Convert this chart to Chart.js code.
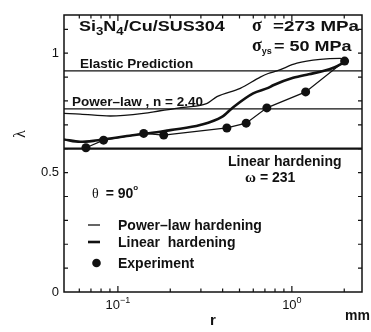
<!DOCTYPE html>
<html>
<head>
<meta charset="utf-8">
<script src="https://cdn.jsdelivr.net/npm/chart.js@4/dist/chart.umd.min.js"></script>
<style>
  html, body { margin: 0; padding: 0; background: #fff; }
  #wrap { width: 371px; height: 332px; }
</style>
</head>
<body>
<div id="wrap"><canvas id="c" width="371" height="332"></canvas></div>
<script>
// Distance from the interface edge r (mm) and the singularity exponent λ
const powerLawR = [0.049, 0.0607, 0.0903, 0.1403, 0.175, 0.238, 0.326, 0.371, 0.505, 0.658, 0.731, 0.82, 1.069, 1.455, 1.896, 2.0];
const powerLawL = [0.748, 0.745, 0.737, 0.748, 0.759, 0.773, 0.790, 0.818, 0.853, 0.900, 0.915, 0.926, 0.958, 0.974, 0.978, 0.975];

const linearR = [0.049, 0.0607, 0.0724, 0.0903, 0.1127, 0.175, 0.200, 0.297, 0.396, 0.462, 0.599, 0.731, 0.781, 1.017, 1.25, 1.513, 1.75, 2.0];
const linearL = [0.639, 0.629, 0.633, 0.643, 0.653, 0.671, 0.678, 0.699, 0.733, 0.775, 0.832, 0.855, 0.866, 0.897, 0.912, 0.925, 0.940, 0.962];

const expR = [0.0655, 0.0827, 0.1407, 0.1834, 0.423, 0.546, 0.718, 1.20, 2.01];
const expL = [0.604, 0.636, 0.664, 0.657, 0.687, 0.707, 0.771, 0.838, 0.967];

// Reference levels of λ
const elasticLevel = 0.926;
const powerLawLevel = 0.767;
const linearLevel = 0.600;

// Axis ranges and ticks
const xRange = [0.049, 2.53];
const yRange = [0, 1.16];
const xTickValues = [0.06, 0.07, 0.08, 0.09, 0.1, 0.2, 0.3, 0.4, 0.5, 0.6, 0.7, 0.8, 0.9, 1, 2];
const xMajorTicks = [0.1, 1];
const xTickExponents = ['−1', '0'];
const yTickValues = [0, 0.1, 0.2, 0.3, 0.4, 0.5, 0.6, 0.7, 0.8, 0.9, 1.0, 1.1];
const yTickLabels = ['0', '', '', '', '', '0.5', '', '', '', '', '1', ''];

const INK = '#111';
const SANS = '"Liberation Sans", Arial, Helvetica, sans-serif';
const SERIF = '"Liberation Serif", "Times New Roman", serif';

const pts = (xs, ys) => xs.map((x, i) => ({ x: x, y: ys[i] }));
const level = (v) => [{ x: xRange[0], y: v }, { x: xRange[1], y: v }];

// Draws a run of text pieces (font, vertical shift) with an optional horizontal stretch
function drawRuns(ctx, x, y, parts, sx) {
  ctx.save();
  ctx.translate(x, y);
  ctx.scale(sx || 1, 1);
  ctx.textBaseline = 'alphabetic';
  ctx.textAlign = 'left';
  let cx = 0;
  for (const p of parts) {
    ctx.font = p.f;
    ctx.fillText(p.t, cx, p.dy || 0);
    cx += ctx.measureText(p.t).width + (p.gap || 0);
  }
  ctx.restore();
}

const decorations = {
  id: 'decorations',
  afterDatasetsDraw(chart) {
    const { ctx, chartArea: a, scales } = chart;
    const xs = scales.x, ys = scales.y;
    ctx.save();
    ctx.fillStyle = INK;
    ctx.strokeStyle = INK;

    // frame
    ctx.lineWidth = 1.5;
    ctx.strokeRect(a.left, a.top, a.right - a.left, a.bottom - a.top);

    // inward tick marks
    ctx.lineWidth = 1.2;
    ctx.beginPath();
    for (const v of yTickValues) {
      const py = ys.getPixelForValue(v);
      if (v === 0) continue;
      ctx.moveTo(a.left, py); ctx.lineTo(a.left + 4, py);
      ctx.moveTo(a.right, py); ctx.lineTo(a.right - 4, py);
    }
    for (const v of xTickValues) {
      const px = xs.getPixelForValue(v);
      const len = xMajorTicks.includes(v) ? 6 : 3.5;
      ctx.moveTo(px, a.bottom); ctx.lineTo(px, a.bottom - len);
      ctx.moveTo(px, a.top); ctx.lineTo(px, a.top + len);
    }
    ctx.stroke();

    // decade labels on the r axis
    xMajorTicks.forEach((v, i) => {
      const px = xs.getPixelForValue(v);
      ctx.font = '13px ' + SANS;
      const wb = ctx.measureText('10').width;
      ctx.font = '9px ' + SANS;
      const we = ctx.measureText(xTickExponents[i]).width;
      const x0 = px - (wb + we) / 2;
      drawRuns(ctx, x0, 309, [
        { t: '10', f: '13px ' + SANS },
        { t: xTickExponents[i], f: '9px ' + SANS, dy: -6 }
      ]);
    });
    ctx.font = 'bold 14px ' + SANS;
    ctx.fillText('mm', 345, 320);

    // λ axis title
    ctx.save();
    ctx.translate(21, 134);
    ctx.rotate(-Math.PI / 2);
    ctx.font = '16px ' + SERIF;
    ctx.textAlign = 'center';
    ctx.textBaseline = 'middle';
    ctx.fillText('λ', 0, 0);
    ctx.restore();

    // material and load annotations
    const B15 = 'bold 15px ' + SANS, B11 = 'bold 11px ' + SANS;
    drawRuns(ctx, 79, 31, [
      { t: 'Si', f: B15 }, { t: '3', f: B11, dy: 4 },
      { t: 'N', f: B15 }, { t: '4', f: B11, dy: 4 },
      { t: '/Cu/SUS304', f: B15 }
    ], 1.2);
    drawRuns(ctx, 252, 31, [{ t: 'σ', f: 'bold 18px ' + SERIF }]);
    drawRuns(ctx, 273, 31, [{ t: '=273 MPa', f: B15 }], 1.25);
    drawRuns(ctx, 252, 51, [{ t: 'σ', f: 'bold 18px ' + SERIF }, { t: 'ys', f: 'bold 9px ' + SANS, dy: 3 }]);
    drawRuns(ctx, 274, 51, [{ t: '= 50 MPa', f: B15 }], 1.2);

    const B13 = 'bold 13.5px ' + SANS, B14 = 'bold 14px ' + SANS;
    drawRuns(ctx, 80, 68, [{ t: 'Elastic Prediction', f: B13 }]);
    drawRuns(ctx, 72, 106, [{ t: 'Power–law , n = 2.40', f: B13 }]);
    drawRuns(ctx, 228, 166, [{ t: 'Linear hardening', f: B14 }]);
    drawRuns(ctx, 245, 182, [{ t: 'ω', f: 'bold 15px ' + SERIF, gap: 4 }, { t: '= 231', f: B14 }]);
    drawRuns(ctx, 92, 198, [{ t: 'θ', f: '14px ' + SERIF, gap: 7 }, { t: '= 90', f: B14 }, { t: 'o', f: 'bold 8px ' + SANS, dy: -8 }]);

    // legend
    ctx.lineCap = 'butt';
    ctx.lineWidth = 1.3;
    ctx.beginPath(); ctx.moveTo(88, 225); ctx.lineTo(100, 225); ctx.stroke();
    ctx.lineWidth = 2.6;
    ctx.beginPath(); ctx.moveTo(88, 242); ctx.lineTo(100, 242); ctx.stroke();
    ctx.beginPath(); ctx.arc(96.5, 263, 4.3, 0, Math.PI * 2); ctx.fill();
    drawRuns(ctx, 118, 230, [{ t: 'Power–law hardening', f: B14 }]);
    drawRuns(ctx, 118, 247, [{ t: 'Linear  hardening', f: B14 }]);
    drawRuns(ctx, 118, 268, [{ t: 'Experiment', f: B14 }]);

    ctx.restore();
  }
};

new Chart(document.getElementById('c'), {
  type: 'line',
  data: {
    datasets: [
      { label: 'Elastic prediction', data: level(elasticLevel), borderColor: INK, borderWidth: 1.3, pointRadius: 0 },
      { label: 'Power-law level', data: level(powerLawLevel), borderColor: INK, borderWidth: 1.3, pointRadius: 0 },
      { label: 'Linear hardening level', data: level(linearLevel), borderColor: INK, borderWidth: 2.3, pointRadius: 0 },
      { label: 'Power-law hardening', data: pts(powerLawR, powerLawL), borderColor: INK, borderWidth: 1.3, pointRadius: 0, cubicInterpolationMode: 'monotone' },
      { label: 'Linear hardening', data: pts(linearR, linearL), borderColor: INK, borderWidth: 2.6, pointRadius: 0, cubicInterpolationMode: 'monotone' },
      { label: 'Experiment', data: pts(expR, expL), borderColor: INK, borderWidth: 1.2, pointRadius: 4.5, pointBackgroundColor: INK, pointBorderWidth: 0 }
    ]
  },
  options: {
    responsive: false,
    animation: false,
    events: [],
    layout: { padding: { top: 15, right: 9, left: 0, bottom: 0 } },
    plugins: { legend: { display: false }, tooltip: { enabled: false } },
    scales: {
      x: {
        type: 'logarithmic',
        min: xRange[0], max: xRange[1],
        afterBuildTicks: (s) => { s.ticks = xTickValues.map(v => ({ value: v })); },
        afterFit: (s) => { s.height = 40; },
        ticks: { display: false },
        grid: { display: false },
        border: { display: false },
        title: { display: true, text: 'r', color: INK, font: { family: SANS, size: 15, weight: 'bold' }, padding: { top: 0, bottom: 2 } }
      },
      y: {
        type: 'linear',
        min: yRange[0], max: yRange[1],
        afterBuildTicks: (s) => { s.ticks = yTickValues.map(v => ({ value: v })); },
        afterFit: (s) => { s.width = 64; },
        ticks: {
          color: INK,
          font: { family: SANS, size: 13 },
          padding: 5,
          callback: (v, i) => yTickLabels[i]
        },
        grid: { display: false, drawTicks: false },
        border: { display: false }
      }
    }
  },
  plugins: [decorations]
});
</script>
</body>
</html>
